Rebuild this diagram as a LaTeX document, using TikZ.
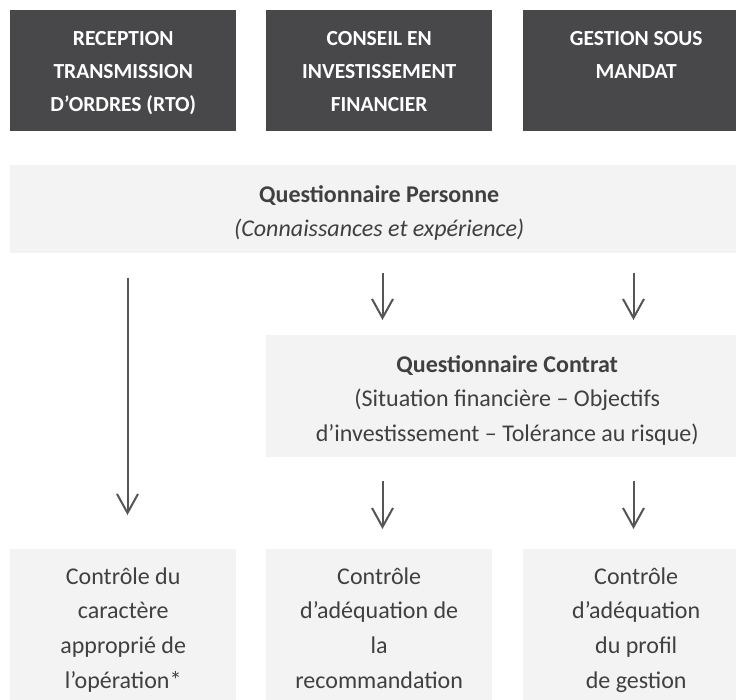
\documentclass[tikz,border=0pt]{standalone}
\usepackage{fontspec}
\setmainfont{Carlito}
\usetikzlibrary{arrows.meta}
\definecolor{darkbox}{HTML}{48484A}
\definecolor{lightbox}{HTML}{F3F3F3}
\definecolor{txtc}{HTML}{404040}
\definecolor{arrowc}{HTML}{555555}
\newcommand{\firstup}[1]{\rule{0pt}{#1}}
\begin{document}
\begin{tikzpicture}[x=1pt,y=-1pt,
  headbox/.style={fill=darkbox, text=white, font=\fontsize{21.5}{33}\selectfont\bfseries,
    align=center, minimum width=226pt, minimum height=121pt, inner sep=0pt, anchor=north west},
  bandbox/.style={fill=lightbox, text=txtc, font=\fontsize{24}{34.5}\selectfont,
    align=center, inner sep=0pt, anchor=north west},
  ctrlbox/.style={fill=lightbox, text=txtc, font=\fontsize{24}{34.7}\selectfont,
    align=center, minimum width=226pt, minimum height=158pt, inner sep=0pt, anchor=north west},
  arr/.style={draw=arrowc, line width=2pt, -{Straight Barb[length=19pt,width=21pt]}}]
\useasboundingbox (0,0) rectangle (736,700);
% top boxes
\node[headbox] (rto) at (10,10) {\firstup{19pt}RECEPTION\\TRANSMISSION\\D’ORDRES (RTO)};
\node[headbox] (cif) at (266,10) {\firstup{19pt}CONSEIL EN\\INVESTISSEMENT\\FINANCIER\vphantom{(}};
\node[headbox] (gsm) at (523,10) {\firstup{19pt}GESTION SOUS\\MANDAT\\\vphantom{(}};
% questionnaire personne
\node[bandbox, minimum width=738pt, minimum height=88pt] (pers) at (10,165)
  {\firstup{24pt}\textbf{Questionnaire Personne}\\\textit{(Connaissances et expérience)}};
% questionnaire contrat
\node[bandbox, minimum width=482pt, minimum height=122pt] (contrat) at (266,335)
  {\firstup{25pt}\textbf{Questionnaire Contrat}\\(Situation financière – Objectifs\\d’investissement – Tolérance au risque)};
% bottom boxes
\node[ctrlbox] (c1) at (10,549) {\firstup{20pt}Contrôle du\\caractère\\approprié de\\l’opération*\vphantom{p}};
\node[ctrlbox] (c2) at (266,549) {\firstup{20pt}Contrôle\\d’adéquation de\\la\\recommandation\vphantom{p}};
\node[ctrlbox] (c3) at (523,549) {\firstup{20pt}Contrôle\\d’adéquation\\du profil\\de gestion\vphantom{p}};
% arrow end points
\coordinate (p1) at (127.5,278); \coordinate (q1) at (127.5,515);
\coordinate (p2) at (382.5,273); \coordinate (q2) at (382.5,320);
\coordinate (p3) at (633.5,273); \coordinate (q3) at (633.5,320);
\coordinate (p4) at (382.5,481); \coordinate (q4) at (382.5,529);
\coordinate (p5) at (633.5,481); \coordinate (q5) at (633.5,529);
\draw[arr] (p1) -- (q1);
\draw[arr] (p2) -- (q2);
\draw[arr] (p3) -- (q3);
\draw[arr] (p4) -- (q4);
\draw[arr] (p5) -- (q5);
\end{tikzpicture}
\end{document}
